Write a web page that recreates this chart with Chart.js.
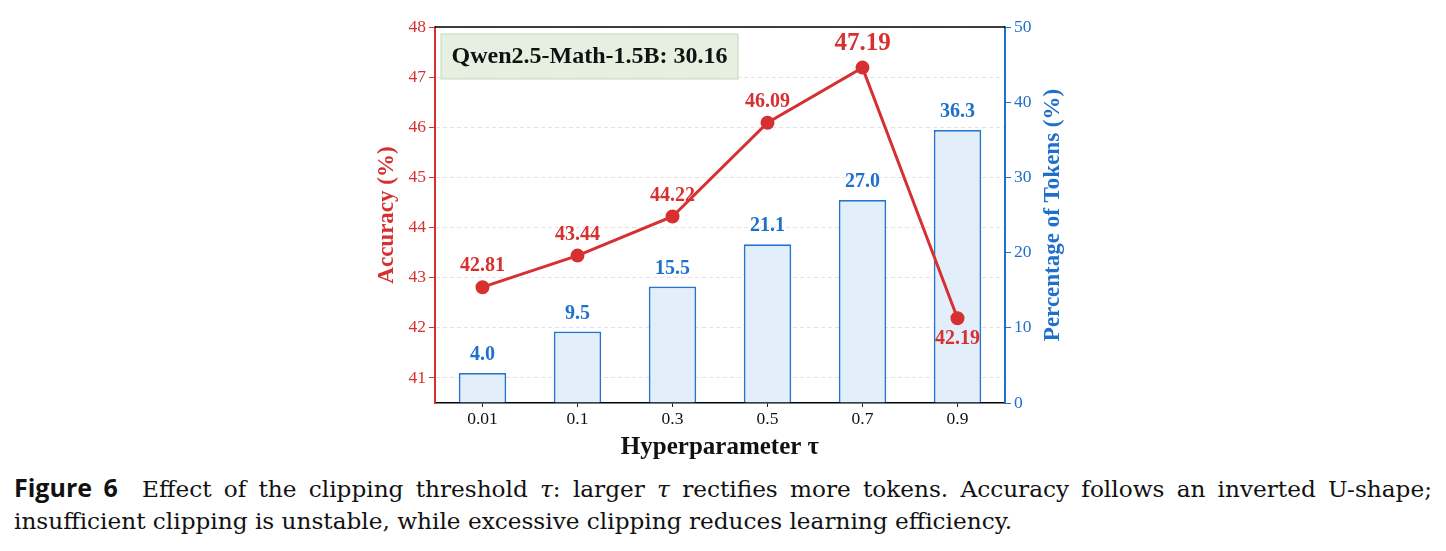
<!DOCTYPE html>
<html><head><meta charset="utf-8">
<script src="https://cdn.jsdelivr.net/npm/chart.js@4.4.1/dist/chart.umd.min.js"></script>
<style>
html,body{margin:0;padding:0;background:#fff;width:1446px;height:551px;overflow:hidden;}
#wrap{position:absolute;left:0;top:0;width:1446px;height:465px;}
.cap{position:absolute;left:14px;width:1418px;font-family:"DejaVu Serif",serif;font-size:23.2px;line-height:33px;color:#111;white-space:nowrap;}
#c1{top:471px;text-align:justify;text-align-last:justify;white-space:normal;}
#c2{top:504px;}
.fig{font-family:"Open Sans","DejaVu Sans",sans-serif;font-weight:700;font-size:25px;}
</style></head>
<body>
<div id="wrap"><canvas id="ch" width="1446" height="465"></canvas></div>
<div class="cap" id="c1"><span class="fig">Figure&nbsp;6</span>&nbsp; Effect of the clipping threshold <i>τ</i>: larger <i>τ</i> rectifies more tokens. Accuracy follows an inverted U-shape;</div>
<div class="cap" id="c2">insufficient clipping is unstable, while excessive clipping reduces learning efficiency.</div>
<script>
const categories = ["0.01","0.1","0.3","0.5","0.7","0.9"];
const accuracy = [42.81, 43.44, 44.22, 46.09, 47.19, 42.19];
const tokenPct = [4.0, 9.5, 15.5, 21.1, 27.0, 36.3];
const accTicks = [41,42,43,44,45,46,47,48];
const pctTicks = [0,10,20,30,40,50];
const baselineLabel = "Qwen2.5-Math-1.5B: 30.16";

const RED = '#d63031', BLUE = '#1f6fcc', SERIF = '"Liberation Serif","DejaVu Serif",serif';

const deco = {
  id:'deco',
  afterDatasetsDraw(chart){
    const ctx = chart.ctx, a = chart.chartArea;
    ctx.save();
    ctx.strokeStyle = '#000'; ctx.lineWidth = 1.5;
    ctx.beginPath(); ctx.moveTo(a.left, a.top); ctx.lineTo(a.right, a.top); ctx.stroke();
    const mb = chart.getDatasetMeta(1);
    ctx.textAlign = 'center'; ctx.textBaseline = 'middle';
    ctx.fillStyle = BLUE; ctx.font = 'bold 20px ' + SERIF;
    mb.data.forEach((el,i)=>{ ctx.fillText(tokenPct[i].toFixed(1), el.x, el.y - 18); });
    const ml = chart.getDatasetMeta(0);
    ctx.fillStyle = RED;
    let maxI = accuracy.indexOf(Math.max(...accuracy));
    ml.data.forEach((el,i)=>{
      if (i === maxI) { ctx.font = 'bold 25px ' + SERIF; ctx.fillText(accuracy[i].toFixed(2), el.x, el.y - 24); }
      else if (i === accuracy.length-1) { ctx.font = 'bold 20px ' + SERIF; ctx.fillText(accuracy[i].toFixed(2), el.x, el.y + 21); }
      else { ctx.font = 'bold 20px ' + SERIF; ctx.fillText(accuracy[i].toFixed(2), el.x, el.y - 21); }
    });
    ctx.fillStyle = 'rgba(220,235,215,0.75)'; ctx.strokeStyle = '#c8d6c4'; ctx.lineWidth = 1;
    ctx.fillRect(a.left+6, a.top+7, 297, 45); ctx.strokeRect(a.left+6, a.top+7, 297, 45);
    ctx.fillStyle = '#111'; ctx.font = 'bold 24px ' + SERIF;
    ctx.fillText(baselineLabel, a.left+6+148.5, a.top+30);
    ctx.font = 'bold 25px ' + SERIF; ctx.fillStyle = '#111';
    ctx.fillText('Hyperparameter \u03C4', (a.left+a.right)/2, 448);
    ctx.save(); ctx.translate(387, (a.top+a.bottom)/2); ctx.rotate(-Math.PI/2);
    ctx.fillStyle = RED; ctx.font = 'bold 23px ' + SERIF; ctx.fillText('Accuracy (%)', 0, 0); ctx.restore();
    ctx.save(); ctx.translate(1053, (a.top+a.bottom)/2); ctx.rotate(-Math.PI/2);
    ctx.fillStyle = BLUE; ctx.font = 'bold 23px ' + SERIF; ctx.fillText('Percentage of Tokens (%)', 0, 0); ctx.restore();
    ctx.restore();
  }
};

new Chart(document.getElementById('ch'), {
  data: {
    labels: categories,
    datasets: [
      { type:'line', data: accuracy, yAxisID:'y', order:0, borderColor:RED, backgroundColor:RED,
        borderWidth:3, pointRadius:5.5, pointBackgroundColor:RED, pointBorderColor:RED, tension:0 },
      { type:'bar', data: tokenPct, yAxisID:'y1', order:1, backgroundColor:'#e2effb', borderColor:'#2574cf',
        borderWidth:1.8, barPercentage:0.5, categoryPercentage:1.0 }
    ]
  },
  options: {
    responsive:false, animation:false, devicePixelRatio:1,
    layout:{ padding:{ top:27, left:0, right:0, bottom:0 } },
    plugins:{ legend:{display:false}, tooltip:{enabled:false} },
    scales:{
      x:{ offset:true, afterFit(s){ s.height = 62; },
          grid:{ display:true, drawOnChartArea:false, tickLength:4, tickColor:'#222', offset:false },
          border:{ color:'#000', width:1.5 },
          ticks:{ color:'#111', font:{ family:SERIF, size:17.5 }, padding:2 } },
      y:{ position:'left', min:40.5, max:48, afterFit(s){ s.width = 435; },
          afterBuildTicks(s){ s.ticks = accTicks.map(v=>({value:v})); },
          grid:{ color:'#e3e3e3', tickColor:RED, tickBorderDash:[], tickLength:6, lineWidth:1 },
          border:{ color:RED, width:2, dash:[4,3] },
          ticks:{ color:RED, font:{ family:SERIF, size:17.5 }, padding:3 } },
      y1:{ position:'right', min:0, max:50, afterFit(s){ s.width = 441; },
          afterBuildTicks(s){ s.ticks = pctTicks.map(v=>({value:v})); },
          grid:{ drawOnChartArea:false, tickColor:BLUE, tickLength:6 },
          border:{ color:BLUE, width:2 },
          ticks:{ color:BLUE, font:{ family:SERIF, size:17.5 }, padding:3 } }
    }
  },
  plugins:[deco]
});
</script>
</body></html>
